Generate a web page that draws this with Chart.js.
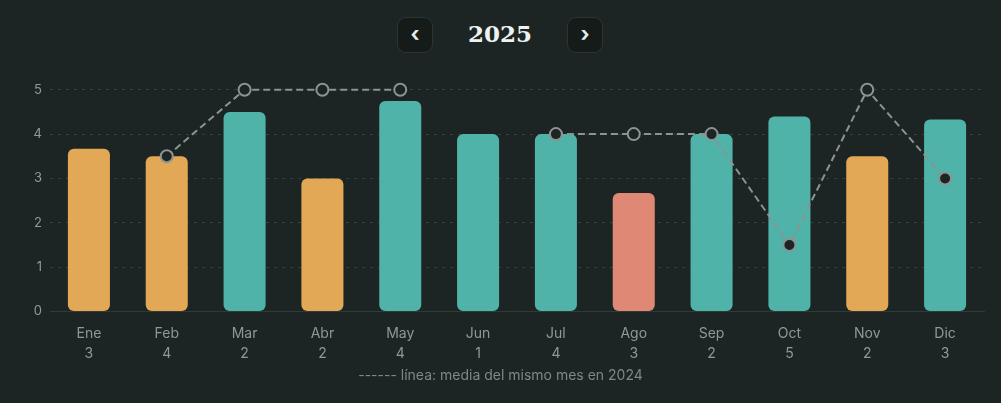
<!DOCTYPE html>
<html>
<head>
<meta charset="utf-8">
<script src="https://cdn.jsdelivr.net/npm/chart.js@4"></script>
<style>
  html, body { margin: 0; padding: 0; background: #1c2523; }
  body { width: 1001px; height: 403px; position: relative; overflow: hidden; font-family: Inter, "Noto Sans", sans-serif; }
  .nav { position: absolute; top: 17px; width: 36px; height: 36px; box-sizing: border-box;
         border: 1px solid #2b3632; border-radius: 9px; background: #141b19; color: #e6ecea;
         font-size: 21px; font-weight: 700; line-height: 32px; text-align: center; }
  #prev { left: 397px; }
  #next { left: 567px; }
  #year { position: absolute; top: 16px; left: 450px; width: 100px; text-align: center;
          font-family: "DejaVu Serif", serif; font-weight: 700; font-size: 23px; line-height: 36px; color: #eef2f0; }
  #wrap { position: absolute; left: 0; top: 74px; width: 1001px; height: 294px; }
  #note { position: absolute; top: 366px; left: 0; width: 1001px; text-align: center;
          font-size: 14px; color: #7c8a86; }
</style>
</head>
<body>
<div class="nav" id="prev">‹</div>
<div id="year">2025</div>
<div class="nav" id="next">›</div>
<div id="wrap"><canvas id="moodChart"></canvas></div>
<div id="note">------ línea: media del mismo mes en 2024</div>
<script>
const months = ['Ene', 'Feb', 'Mar', 'Abr', 'May', 'Jun', 'Jul', 'Ago', 'Sep', 'Oct', 'Nov', 'Dic'];
const counts = [3, 4, 2, 2, 4, 1, 4, 3, 2, 5, 2, 3];
const avg2025 = [3.67, 3.5, 4.5, 3, 4.75, 4, 4, 2.67, 4, 4.4, 3.5, 4.33];
const avg2024 = [null, 3.5, 5, 5, 5, null, 4, 4, 4, 1.5, 5, 3];
const yTicks = [0, 1, 2, 3, 4, 5];

function barColor(v) {
    if (v >= 4) return '#4fb3a9';
    if (v >= 3) return '#e2a856';
    return '#e08876';
}

function initChart() {
    const ctx = document.getElementById('moodChart').getContext('2d');
    new Chart(ctx, {
        data: {
            labels: months.map((m, i) => [m, String(counts[i])]),
            datasets: [{
                type: 'line',
                data: avg2024,
                borderColor: '#8b9491',
                borderWidth: 2,
                borderDash: [7, 4],
                pointRadius: 6,
                pointBorderWidth: 2,
                pointBackgroundColor: '#1c2523',
                pointBorderColor: '#8b9491',
                spanGaps: false,
                tension: 0,
                clip: false,
                order: 0
            }, {
                type: 'bar',
                data: avg2025,
                backgroundColor: avg2025.map(barColor),
                borderRadius: 6,
                borderSkipped: false,
                barPercentage: 0.9,
                categoryPercentage: 0.6,
                order: 1
            }]
        },
        options: {
            responsive: true,
            maintainAspectRatio: false,
            animation: false,
            layout: { padding: { left: 0, right: 17, top: 14, bottom: 0 } },
            plugins: { legend: { display: false }, tooltip: { enabled: false } },
            scales: {
                x: {
                    grid: { display: false },
                    border: { color: '#2f3b37', width: 1 },
                    ticks: {
                        color: '#8c9a97',
                        font: { family: 'Inter', size: 14, lineHeight: 1.45 },
                        padding: 4
                    }
                },
                y: {
                    min: 0,
                    max: 5,
                    afterFit: s => { s.width = 50; },
                    afterBuildTicks: s => { s.ticks = yTicks.map(v => ({ value: v })); },
                    grid: {
                        color: ctx => ctx.tick && ctx.tick.value === 0 ? 'rgba(0,0,0,0)' : '#33413c',
                        drawTicks: false
                    },
                    border: { display: false, dash: [3, 5] },
                    ticks: {
                        color: '#8a9ba0',
                        font: { family: 'Inter', size: 13 },
                        padding: 8
                    }
                }
            }
        }
    });
}

document.addEventListener('DOMContentLoaded', initChart);
</script>
</body>
</html>
